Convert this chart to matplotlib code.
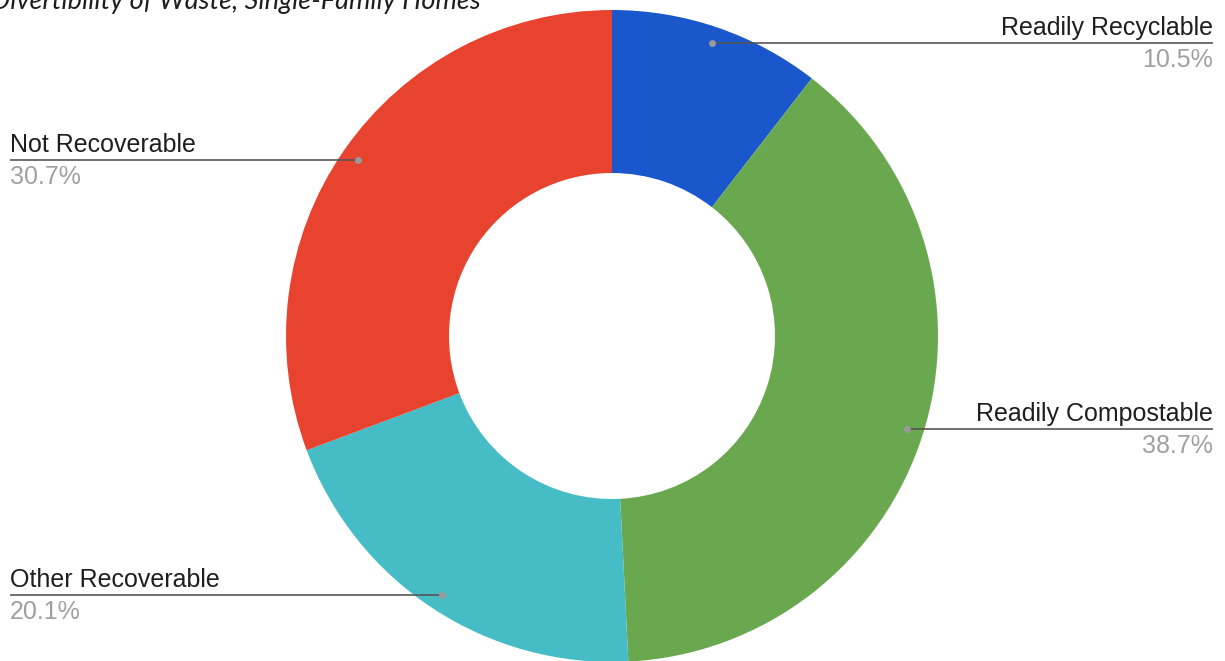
import numpy as np
import matplotlib.pyplot as plt

labels = ["Readily Recyclable", "Readily Compostable", "Other Recoverable", "Not Recoverable"]
shares = [10.5, 38.7, 20.1, 30.7]
colors = ["#1a56cc", "#6aa84f", "#46bdc6", "#e8432f"]

W, H = 1225, 661
fig = plt.figure(figsize=(W / 100, H / 100), dpi=100)
ax = fig.add_axes([0, 0, 1, 1])

# donut, in pixel coords (y up)
cx, cy, R = 612, H - 336, 326
wedges, _ = ax.pie(shares, colors=colors, startangle=90, counterclock=False,
                   center=(cx, cy), radius=R, frame=True,
                   wedgeprops=dict(width=R * 0.5, linewidth=0))
ax.set_xlim(0, W)
ax.set_ylim(0, H)
ax.set_aspect("equal")
ax.axis("off")

font = ["Liberation Sans", "DejaVu Sans"]
for w, lab, val in zip(wedges, labels, shares):
    mid = np.deg2rad((w.theta1 + w.theta2) / 2)
    px = cx + 0.95 * R * np.cos(mid)
    py = cy + 0.95 * R * np.sin(mid)
    if px > cx:
        x_end, ha = 1213, "right"
    else:
        x_end, ha = 10, "left"
    ax.plot([px, x_end], [py, py], color="#555555", lw=1.4, alpha=0.85,
            solid_capstyle="butt", zorder=3)
    ax.plot(px, py, "o", ms=4, color="#999999", zorder=4)
    ax.text(x_end, py + 8, lab, ha=ha, va="baseline", fontsize=18,
            color="#1e1e1e", family=font)
    ax.text(x_end, py - 24, f"{val}%", ha=ha, va="baseline", fontsize=18,
            color="#a0a0a0", family=font)

ax.text(-9, H - 9, "Divertibility of Waste, Single-Family Homes", ha="left",
        va="baseline", fontsize=19.5, style="italic", color="#1e1e1e",
        family=["Lato", "DejaVu Sans"])

fig.savefig("out.png", dpi=100)
